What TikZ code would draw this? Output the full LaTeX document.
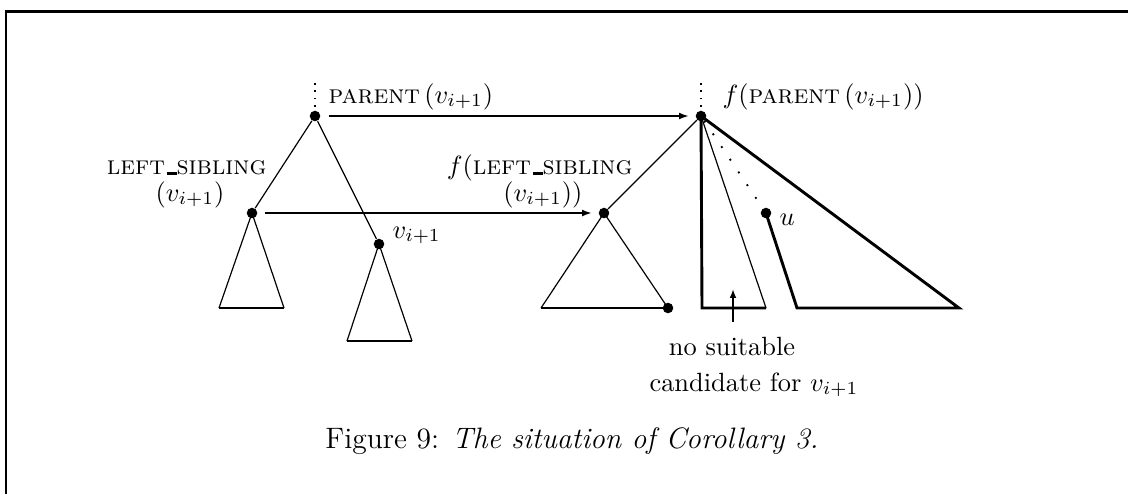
\documentclass[tikz,border=0pt]{standalone}
\usetikzlibrary{arrows.meta}
\newcommand{\usc}{\kern.06em\rule[-0.3pt]{0.38em}{1pt}}
\begin{document}
\begin{tikzpicture}[x=0.379pt,y=-0.379pt,
  dot/.style={circle,fill=black,inner sep=0pt,minimum size=4pt},
  thinl/.style={line width=0.45pt},
  thickl/.style={line width=1.1pt},
  arr/.style={line width=1pt,-{Latex[length=3.8pt,width=2.6pt]}},
  lbl/.style={inner sep=0pt,font=\fontsize{10}{12}\selectfont},
  vdots/.style={line width=0.6pt,dash pattern=on 0.6pt off 2.2pt},
  ldots/.style={line width=0.7pt,dash pattern=on 0.7pt off 5.1pt}]
\useasboundingbox (0,0) rectangle (1128,494);
% frame
\draw[line width=1pt] (1128,11.5) -- (6,11.5) -- (6,494);
% left tree
\node[dot] (P) at (315,116) {};
\node[dot] (LS) at (252,213) {};
\node[dot] (V) at (379,244) {};
\coordinate (Ptop) at (315,83);
\coordinate (Pbot) at (315,108);
\draw[vdots] (Ptop) -- (Pbot);
\draw[thinl] (P) -- (LS);
\draw[thinl] (P) -- (V);
\coordinate (A1) at (219,308);
\coordinate (A2) at (284,308);
\draw[thinl] (A1) -- (LS.center) -- (A2);
\draw[thickl] (A1) -- (A2);
\coordinate (B1) at (347,341);
\coordinate (B2) at (412,341);
\draw[thinl] (B1) -- (V.center) -- (B2);
\draw[thickl] (B1) -- (B2);
% right tree
\node[dot] (F) at (701,116) {};
\node[dot] (FLS) at (604,213) {};
\node[dot] (U) at (766,213) {};
\node[dot] (D) at (668,308) {};
\coordinate (Ftop) at (701,83);
\coordinate (Fbot) at (701,108);
\draw[vdots] (Ftop) -- (Fbot);
\draw[thinl] (F) -- (FLS);
\coordinate (C1) at (541,308);
\draw[thinl] (C1) -- (FLS.center) -- (D.center);
\draw[thickl] (C1) -- (D.center);
\coordinate (E1) at (702,308);
\coordinate (E2) at (766,308);
\draw[thickl] (F.center) -- (E1) -- (E2);
\draw[thinl] (F.center) -- (E2);
\draw[ldots] (F) -- (U);
\coordinate (G1) at (797,308);
\coordinate (G2) at (959,308);
\draw[thickl] (U.center) -- (G1) -- (G2) -- (F.center);
% arrows
\draw[arr,shorten <=3pt,shorten >=2.3pt] (P) -- (F);
\draw[arr,shorten <=2.7pt,shorten >=2.3pt] (LS) -- (FLS);
\coordinate (arB) at (733,322);
\coordinate (arT) at (733,289);
\draw[line width=1.1pt,-{Latex[length=3.4pt,width=2.6pt]}] (arB) -- (arT);
% labels
\node[lbl,anchor=base west] (lP) at (328,103) {\textsc{parent}$\,(v_{i+1})$};
\node[lbl,anchor=base west] (lF) at (722,103) {$f(\textsc{parent}\,(v_{i+1}))$};
\node[lbl,anchor=base east] (lLS1) at (267,174) {\textsc{left\usc sibling}};
\node[lbl,anchor=base east] (lLS2) at (225,201) {$(v_{i+1})$};
\node[lbl,anchor=base east] (lFLS1) at (633,174) {$f($\textsc{left\usc sibling}};
\node[lbl,anchor=base east] (lFLS2) at (583,201) {$(v_{i+1}))$};
\node[lbl,anchor=base west] (lV) at (392,238) {$v_{i+1}$};
\node[lbl,anchor=base west] (lU) at (779,225) {$u$};
\node[lbl,anchor=base] (n1) at (732,355) {no suitable};
\node[lbl,anchor=base] (n2) at (754,391) {candidate for $v_{i+1}$};
\node[inner sep=0pt,anchor=base,font=\fontsize{11.2}{13}\selectfont] (cap) at (572,448) {Figure 9: \textit{The situation of Corollary 3.}};
\end{tikzpicture}
\end{document}
